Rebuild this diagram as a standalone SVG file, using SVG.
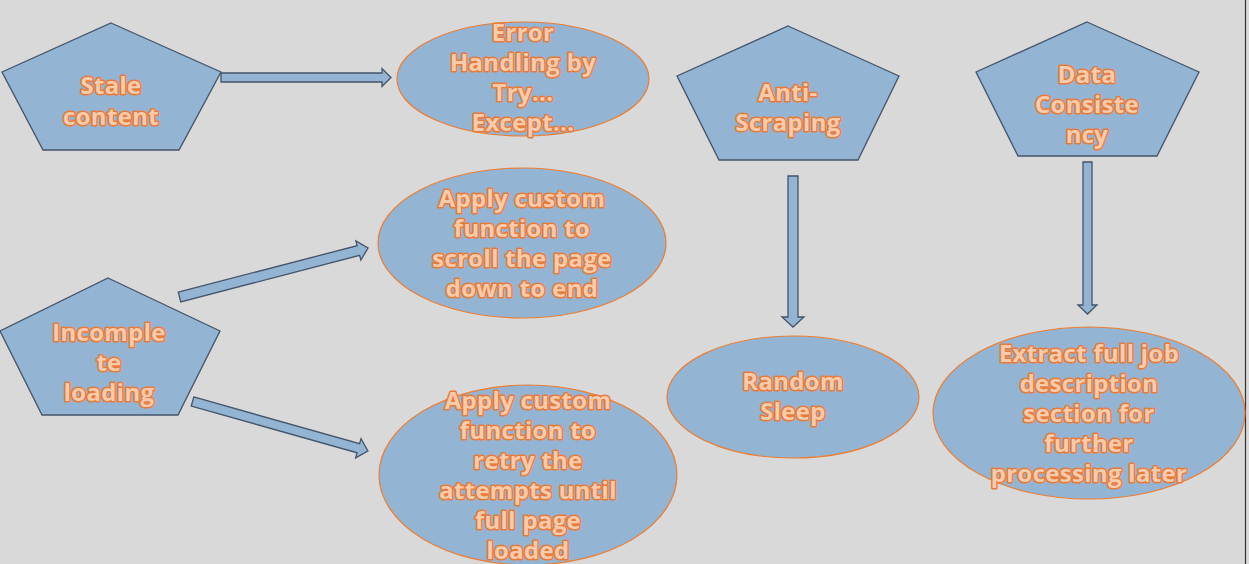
<svg xmlns="http://www.w3.org/2000/svg" width="1249" height="564" viewBox="0 0 1249 564">
<style>
.pent{fill:#93b4d3;stroke:#44546a;stroke-width:1.3}
.ell{fill:#93b4d3;stroke:#ed7d31;stroke-width:1.2}
.arr{fill:#93b4d3;stroke:#44546a;stroke-width:1.3}
.t{font-family:"Open Sans","Liberation Sans",sans-serif;font-weight:bold;font-size:24px;letter-spacing:0.3px;fill:#f8cbad;stroke:#e97b3a;stroke-width:3;paint-order:stroke;text-anchor:middle;stroke-linejoin:round}
</style>
<rect width="1249" height="564" fill="#d9d9d9"/>
<line x1="1245.5" y1="0" x2="1245.5" y2="564" stroke="#333" stroke-width="1.2"/>
<g id="connectors">
<polygon class="arr" points="221,73 382,73 382,68.5 391,77.5 382,86.5 382,82 221,82"/>
<polygon class="arr" transform="translate(179.5,297) rotate(-14.57)" points="0,-5 184.8,-5 184.8,-10 194.8,0 184.8,10 184.8,5 0,5"/>
<polygon class="arr" transform="translate(192.5,401.5) rotate(15.75)" points="0,-4.7 172.3,-4.7 172.3,-10 182.3,0 172.3,10 172.3,4.7 0,4.7"/>
<polygon class="arr" points="788,176 798,176 798,317 804,317 793,327 782,317 788,317"/>
<polygon class="arr" points="1083,162 1092,162 1092,305 1097,305 1087.5,314 1078,305 1083,305"/>
</g>
<g id="stale">
<polygon class="pent" points="111,23 221,72 179,150 43,150 2,72"/>
<text class="t" x="111" y="94">Stale</text>
<text class="t" x="111" y="125">content</text>
</g>
<g id="error">
<ellipse class="ell" cx="523" cy="79" rx="126" ry="57"/>
<text class="t" x="523" y="41">Error</text>
<text class="t" x="523" y="71">Handling by</text>
<text class="t" x="523" y="101">Try...</text>
<text class="t" x="523" y="131">Except...</text>
</g>
<g id="incomplete">
<polygon class="pent" points="108,278 220,331 178,415 42,415 0,331"/>
<text class="t" x="109" y="341">Incomple</text>
<text class="t" x="109" y="371">te</text>
<text class="t" x="109" y="401">loading</text>
</g>
<g id="scroll">
<ellipse class="ell" cx="522" cy="243" rx="144" ry="75"/>
<text class="t" x="522" y="207">Apply custom</text>
<text class="t" x="522" y="237">function to</text>
<text class="t" x="522" y="267">scroll the page</text>
<text class="t" x="522" y="297">down to end</text>
</g>
<g id="retry">
<ellipse class="ell" cx="528" cy="475" rx="149" ry="90"/>
<text class="t" x="528" y="409">Apply custom</text>
<text class="t" x="528" y="439">function to</text>
<text class="t" x="528" y="469">retry the</text>
<text class="t" x="528" y="499">attempts until</text>
<text class="t" x="528" y="529">full page</text>
<text class="t" x="528" y="559">loaded</text>
</g>
<g id="antiscraping">
<polygon class="pent" points="788,26 899,76 858,160 719,160 677,76"/>
<text class="t" x="788" y="101">Anti-</text>
<text class="t" x="788" y="131">Scraping</text>
</g>
<g id="sleep">
<ellipse class="ell" cx="793" cy="397" rx="126" ry="61"/>
<text class="t" x="793" y="390">Random</text>
<text class="t" x="793" y="420">Sleep</text>
</g>
<g id="consistency">
<polygon class="pent" points="1087,22 1199,72 1157,156 1018,156 976,72"/>
<text class="t" x="1087" y="83">Data</text>
<text class="t" x="1087" y="113">Consiste</text>
<text class="t" x="1087" y="143">ncy</text>
</g>
<g id="extract">
<ellipse class="ell" cx="1089" cy="413" rx="156" ry="86"/>
<text class="t" x="1089" y="362">Extract full job</text>
<text class="t" x="1089" y="392">description</text>
<text class="t" x="1089" y="422">section for</text>
<text class="t" x="1089" y="452">further</text>
<text class="t" x="1089" y="482">processing later</text>
</g>
</svg>
